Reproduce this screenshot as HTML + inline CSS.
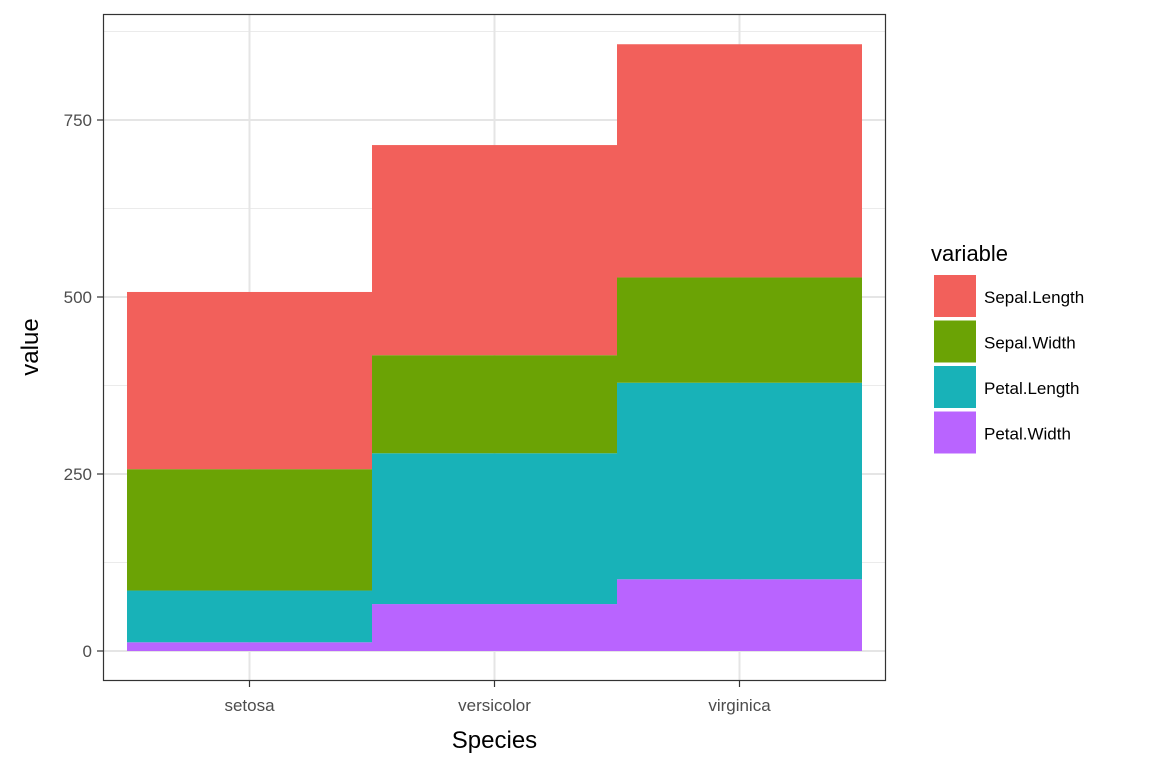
<!DOCTYPE html>
<html><head><meta charset="utf-8"><style>
body{margin:0;background:#fff;}
text{font-family:"Liberation Sans",Arial,sans-serif;}
</style></head><body>
<svg id="chart" width="1152" height="768" xmlns="http://www.w3.org/2000/svg">
<rect width="1152" height="768" fill="#fff"/>
<g id="grid"></g>
<g id="bars"></g>
<rect x="103.5" y="14.5" width="782" height="666" fill="none" stroke="#333" stroke-width="1.2"/>
<g id="axes"></g>
<text x="494.5" y="748" font-size="24" text-anchor="middle" fill="#000">Species</text>
<text transform="translate(38,347) rotate(-90)" font-size="24" text-anchor="middle" fill="#000">value</text>
<g id="legend"></g>
</svg>
<script>
const categories=["setosa","versicolor","virginica"];
const seriesNames=["Sepal.Length","Sepal.Width","Petal.Length","Petal.Width"];
const colors=["#F8766D","#7CAE00","#00BFC4","#C77CFF"].map((c,i)=>["#F2605B","#6BA305","#18B2B8","#B964FF"][i]);
const sepalLength=[250.3,296.8,329.4];
const sepalWidth=[171.4,138.5,148.7];
const petalLength=[73.1,213.0,277.6];
const petalWidth=[12.3,66.3,101.3];
const yTicks=[0,250,500,750];
const yMinor=[125,375,625,875];
const ns="http://www.w3.org/2000/svg";
const y=v=>651-v*0.708;
const x=i=>249.5+i*245;
const bw=245;
function mk(t,a,p){const e=document.createElementNS(ns,t);for(const k in a)e.setAttribute(k,a[k]);p.appendChild(e);return e;}
const grid=document.getElementById('grid');
yMinor.forEach(v=>{const l=mk('line',{x1:104,x2:885,y1:y(v),y2:y(v),stroke:'#EBEBEB','stroke-width':1},grid);

});
yTicks.forEach(v=>{const l=mk('line',{x1:104,x2:885,y1:y(v),y2:y(v),stroke:'#E5E5E5','stroke-width':2},grid);

});
categories.forEach((c,i)=>{const l=mk('line',{x1:x(i),x2:x(i),y1:15,y2:680,stroke:'#E5E5E5','stroke-width':2},grid);

});
const bars=document.getElementById('bars');
const series=[sepalLength,sepalWidth,petalLength,petalWidth];
categories.forEach((c,i)=>{let base=0;
for(let s=series.length-1;s>=0;s--){const v=series[s][i];
const r=mk('rect',{x:x(i)-bw/2,y:y(base+v),width:bw,height:y(base)-y(base+v),fill:colors[s]},bars);


base+=v;}});
const axes=document.getElementById('axes');
yTicks.forEach(v=>{const l=mk('line',{x1:97,x2:103,y1:y(v),y2:y(v),stroke:'#333','stroke-width':1.2},axes);


const t=mk('text',{x:92,y:y(v)+6,'font-size':17,'text-anchor':'end',fill:'#4D4D4D'},axes);t.textContent=v;

});
categories.forEach((c,i)=>{const l=mk('line',{x1:x(i),x2:x(i),y1:681,y2:687,stroke:'#333','stroke-width':1.2},axes);


const t=mk('text',{x:x(i),y:711,'font-size':17,'text-anchor':'middle',fill:'#4D4D4D'},axes);t.textContent=c;

});
const lg=document.getElementById('legend');
const tt=mk('text',{x:931,y:261,'font-size':22,fill:'#000'},lg);tt.textContent='variable';


seriesNames.forEach((n,s)=>{const yy=275+s*45.5;
const r=mk('rect',{x:934,y:yy,width:42,height:42,fill:colors[s]},lg);


const t=mk('text',{x:984,y:yy+28,'font-size':17,fill:'#000'},lg);t.textContent=n;

});
</script>
</body></html>
